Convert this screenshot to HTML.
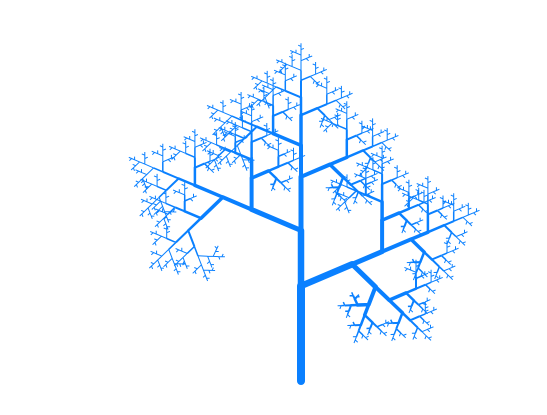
<!DOCTYPE html>
<html><head><meta charset="utf-8"><style>
html,body{margin:0;padding:0;background:#fff;}
svg{display:block;}
</style></head><body>
<svg id="chart" width="547" height="415" viewBox="0 0 547 415" xmlns="http://www.w3.org/2000/svg">
<rect width="547" height="415" fill="#ffffff"/>
<g id="tree"></g>
</svg>
<script>
// tree parameters
const trunkBase = [301, 381];
const trunkLength = [95];
const branchAngleDeg = [67];
const lengthRatios = [0.585, 0.965];
const widthStart = [8];
const widthDecay = [0.8];
const minLength = [2.2];

const theta = branchAngleDeg[0] * Math.PI / 180;
const buckets = {};
function addSeg(x1, y1, x2, y2, w) {
  const key = (w < 1.6 ? 1 : Math.round(w * 2) / 2).toFixed(1);
  (buckets[key] = buckets[key] || []).push('M' + x1.toFixed(1) + ' ' + y1.toFixed(1) + 'L' + x2.toFixed(1) + ' ' + y2.toFixed(1));
}
function grow(x, y, ang, L, w, k) {
  const x2 = x + L * Math.sin(ang), y2 = y - L * Math.cos(ang);
  addSeg(x, y, x2, y2, w);
  const r = lengthRatios[k];
  const nL = L * r;
  if (nL < minLength[0]) return;
  const nw = w * widthDecay[0];
  const side = k === 0 ? theta : -theta;
  grow(x2, y2, ang + side, nL, nw, 0);
  grow(x2, y2, ang, nL, nw, 1 - k);
}
grow(trunkBase[0], trunkBase[1], 0, trunkLength[0], widthStart[0], 0);

const g = document.getElementById('tree');
Object.keys(buckets).sort((a, b) => a - b).forEach(k => {
  const p = document.createElementNS('http://www.w3.org/2000/svg', 'path');
  
  
  p.setAttribute('d', buckets[k].join(''));
  p.setAttribute('stroke', '#0a80ff');
  p.setAttribute('stroke-width', k);
  p.setAttribute('stroke-linecap', parseFloat(k) > 2 ? 'round' : 'butt');
  p.setAttribute('fill', 'none');
  g.appendChild(p);
});
</script>
</body></html>
